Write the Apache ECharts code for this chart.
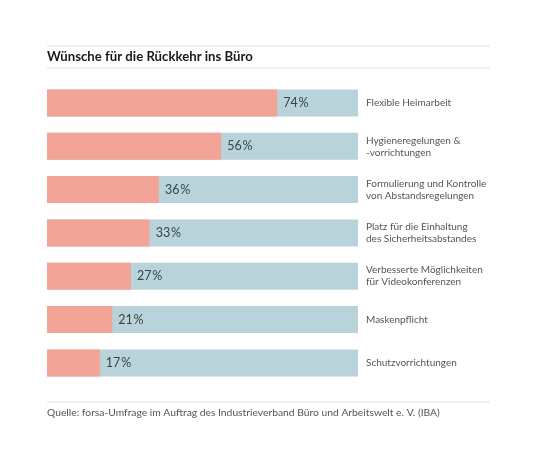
<!DOCTYPE html>
<html>
<head>
<meta charset="utf-8">
<script src="https://cdn.jsdelivr.net/npm/echarts@6/dist/echarts.min.js"></script>
<style>html,body{margin:0;padding:0;background:#fff}#c{width:540px;height:464px}</style>
</head>
<body>
<div id="c"></div>
<script>
const categories = [
  "Flexible Heimarbeit",
  "Hygieneregelungen &\n-vorrichtungen",
  "Formulierung und Kontrolle\nvon Abstandsregelungen",
  "Platz für die Einhaltung\ndes Sicherheitsabstandes",
  "Verbesserte Möglichkeiten\nfür Videokonferenzen",
  "Maskenpflicht",
  "Schutzvorrichtungen"
];
const values = [74, 56, 36, 33, 27, 21, 17];
const titleText = "Wünsche für die Rückkehr ins Büro";
const sourceText = "Quelle: forsa-Umfrage im Auftrag des Industrieverband Büro und Arbeitswelt e. V. (IBA)";

const chart = echarts.init(document.getElementById('c'), null, {renderer: 'canvas'});
const FONT = 'Lato, "Open Sans", sans-serif';
chart.setOption({
  animation: false,
  textStyle: {fontFamily: FONT},
  grid: {left: 47, right: 182, top: 81.3, bottom: 79.4},
  xAxis: {type: 'value', min: 0, max: 100, show: false},
  yAxis: {
    type: 'category', data: categories, inverse: true, position: 'right',
    axisLine: {show: false}, axisTick: {show: false},
    axisLabel: {margin: 8, align: 'left', color: '#555', fontSize: 10, lineHeight: 12, fontFamily: FONT}
  },
  graphic: [
    {type: 'line', shape: {x1: 47, y1: 46, x2: 490, y2: 46}, style: {stroke: '#d6e5ea', lineWidth: 1}},
    {type: 'text', left: 47, top: 50, style: {text: titleText, font: 'bold 13.2px ' + FONT, fill: '#1a1a1a'}},
    {type: 'line', shape: {x1: 47, y1: 68, x2: 490, y2: 68}, style: {stroke: '#d6e5ea', lineWidth: 1}},
    {type: 'line', shape: {x1: 47, y1: 402, x2: 490, y2: 402}, style: {stroke: '#d6e5ea', lineWidth: 1}},
    {type: 'text', left: 47, top: 408, style: {text: sourceText, font: '10.3px ' + FONT, fill: '#555'}}
  ],
  series: [{
    type: 'bar',
    data: values,
    barWidth: 27,
    showBackground: true,
    backgroundStyle: {color: '#b8d4da'},
    itemStyle: {color: '#f2a597'},
    label: {
      show: true, position: 'right', distance: 6,
      color: '#3a4448', fontSize: 12.5, fontFamily: FONT,
      formatter: p => p.value + '\u200A%'
    }
  }]
});
</script>
</body>
</html>
